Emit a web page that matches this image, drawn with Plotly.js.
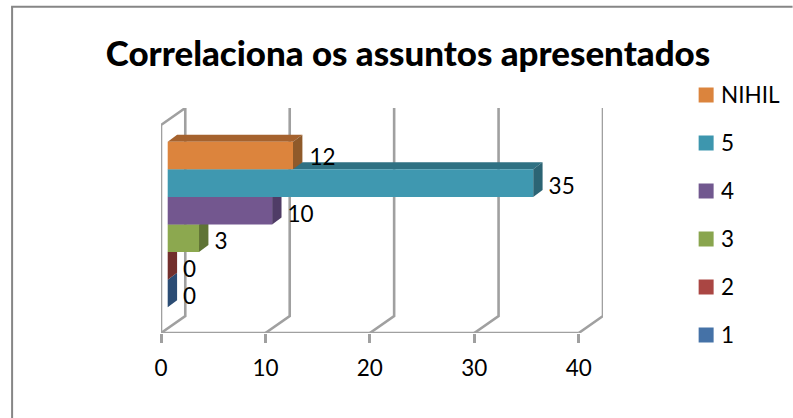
<!DOCTYPE html>
<html>
<head>
<meta charset="utf-8">
<script src="https://cdn.plot.ly/plotly-3.0.1.min.js"></script>
<style>html,body{margin:0;padding:0;background:#fff}#chart{width:793px;height:418px}</style>
</head>
<body>
<div id="chart"></div>
<script>
// Data, bottom band first
var categories = ['1', '2', '3', '4', '5', 'NIHIL'];
var values = [0, 0, 3, 10, 35, 12];
var axisTicks = [0, 10, 20, 30, 40];
var titleText = 'Correlaciona os assuntos apresentados';

// Styles
var frontColors = ['#4572A7', '#AA4643', '#89A54E', '#71588F', '#3D96AE', '#DB843D'];
var barFronts = ['#4572A7', '#AA4643', '#8CA84F', '#73578F', '#3F98B0', '#DC843D'];
var topColors = ['#2F4F78', '#76302E', '#6A803C', '#54416C', '#2F7183', '#A5622E'];
var sideColors = ['#2B4C74', '#722F2C', '#5F7435', '#4F3C66', '#2C6474', '#8F5A2A'];
var font = 'Lato, Carlito, Calibri, sans-serif';
var wallColor = '#A0A0A0';
var borderColor = '#868686';

// Pixel geometry of the frame
var W = 793, H = 418;
var left = 161, pxPerUnit = 10.45, bottomPx = 333, topPx = 108, bandPx = 27.6;
var wallDx = 24.3 / pxPerUnit, wallDy = 17 / bandPx;
var barDx = 9.4 / pxPerUnit, barDy = 7 / bandPx;
var barBase = 6.7 / pxPerUnit;
var xMax = 40 + wallDx;
var yMin = -(bottomPx - 293.5) / bandPx, yMax = (293.5 - topPx) / bandPx;
var labelGapPx = [6, 6, 6, 6, 6, 7];
var labelDropPx = [4.5, 5, 5.5, 5.5, 5.5, 4];
var fontSize = 22.5;

var traces = [];
// Walls and gridlines
axisTicks.forEach(function (t) {
  traces.push({type: 'scatter', mode: 'lines', x: [t, t + wallDx, t + wallDx], y: [yMin, yMin + wallDy, yMax],
    line: {color: wallColor, width: 2.6}, hoverinfo: 'skip', showlegend: false, cliponaxis: false});
});
traces.push({type: 'scatter', mode: 'lines', x: [0, 0, wallDx], y: [yMin, yMax - wallDy, yMax],
  line: {color: wallColor, width: 2.6}, hoverinfo: 'skip', showlegend: false, cliponaxis: false});
traces.push({type: 'scatter', mode: 'lines', x: [0, 40], y: [yMin, yMin],
  line: {color: wallColor, width: 2.6}, hoverinfo: 'skip', showlegend: false, cliponaxis: false});

// Depth faces, bottom band first
categories.forEach(function (c, i) {
  var v = values[i] + barBase, lo = i - 0.5, hi = i + 0.5;
  if (values[i] > 0) {
    traces.push({type: 'scatter', mode: 'lines', fill: 'toself', fillcolor: topColors[i], line: {width: 0},
      x: [barBase, v, v + barDx, barBase + barDx, barBase], y: [hi, hi, hi + barDy, hi + barDy, hi],
      hoverinfo: 'skip', showlegend: false});
  }
  traces.push({type: 'scatter', mode: 'lines', fill: 'toself', fillcolor: sideColors[i], line: {width: 0},
    x: [v, v + barDx, v + barDx, v, v], y: [lo, lo + barDy, hi + barDy, hi, lo],
    hoverinfo: 'skip', showlegend: false});
});

// Front faces
categories.forEach(function (c, i) {
  traces.push({type: 'bar', orientation: 'h', name: c, x: [values[i]], y: [i], base: barBase, width: 1,
    marker: {color: barFronts[i], line: {width: 0}}, xaxis: 'x2', yaxis: 'y2', showlegend: false, hoverinfo: 'x+name'});
});

// Data labels
traces.push({type: 'scatter', mode: 'text', xaxis: 'x2', yaxis: 'y2', cliponaxis: false, showlegend: false,
  x: values.map(function (v, i) { return v + barBase + barDx + labelGapPx[i] / pxPerUnit; }),
  y: categories.map(function (c, i) { return i - labelDropPx[i] / bandPx; }),
  text: values.map(String), textposition: 'middle right',
  textfont: {family: font, size: fontSize, color: '#000'}, hoverinfo: 'skip'});

// Frame and legend
var legendStep = 48, legendBottom = 335;
function px2x(p) { return (p - left) / (xMax * pxPerUnit); }
function py2y(p) { return (bottomPx - p) / 225; }
var shapes = [
  {type: 'line', xref: 'paper', yref: 'paper', x0: px2x(12), x1: px2x(12), y0: py2y(418), y1: py2y(6.7), line: {color: borderColor, width: 2}},
  {type: 'line', xref: 'paper', yref: 'paper', x0: px2x(11), x1: px2x(793), y0: py2y(6.7), y1: py2y(6.7), line: {color: borderColor, width: 2}}
];
var annotations = [];
categories.forEach(function (c, i) {
  var cy = legendBottom - i * legendStep;
  shapes.push({type: 'rect', xref: 'paper', yref: 'paper', x0: px2x(699), x1: px2x(714), y0: py2y(cy + 7.5), y1: py2y(cy - 7.5),
    fillcolor: frontColors[i], line: {width: 0}});
  annotations.push({xref: 'paper', yref: 'paper', x: px2x(720), y: py2y(cy - 1), xanchor: 'left', yanchor: 'middle', showarrow: false,
    text: c, font: {family: font, size: fontSize, color: '#000'}, borderpad: 0});
});

var layout = {
  width: W, height: H, showlegend: false, barmode: 'overlay',
  paper_bgcolor: '#fff', plot_bgcolor: 'rgba(0,0,0,0)',
  margin: {l: left, r: W - left - xMax * pxPerUnit, t: topPx, b: H - bottomPx, pad: 0},
  title: {text: titleText, font: {family: font, size: 34.9, color: '#000', weight: 900}, x: 408 / W, xanchor: 'center', y: 1 - 54 / H, yanchor: 'middle'},
  xaxis: {range: [0, xMax], tickmode: 'array', tickvals: axisTicks, ticktext: axisTicks.map(String), ticks: 'outside', ticklen: 9, tickwidth: 2.6, tickcolor: wallColor,
    ticklabelstandoff: 6, showgrid: false, zeroline: false, showline: false, tickfont: {family: font, size: fontSize, color: '#000'}},
  yaxis: {range: [yMin, yMax], showticklabels: false, ticks: '', showgrid: false, zeroline: false, showline: false},
  xaxis2: {range: [0, xMax], overlaying: 'x', visible: false},
  yaxis2: {range: [yMin, yMax], overlaying: 'y', visible: false},
  shapes: shapes, annotations: annotations
};
Plotly.newPlot('chart', traces, layout, {displayModeBar: false, responsive: false});
</script>
</body>
</html>
